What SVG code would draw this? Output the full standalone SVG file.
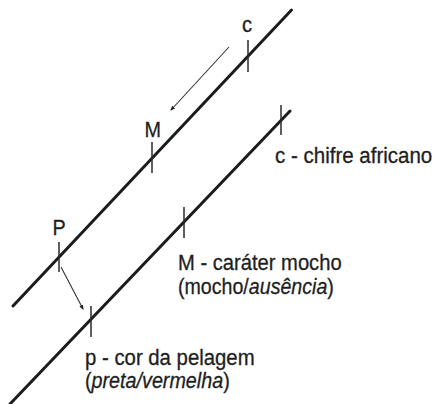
<svg xmlns="http://www.w3.org/2000/svg" width="434" height="404" viewBox="0 0 434 404">
<style>
.chrom{stroke:#1c1c1c;stroke-width:3;stroke-linecap:round;fill:none}
.tick{stroke:#2a2a2a;stroke-width:1.5;fill:none}
.arr{stroke:#333;stroke-width:1.1;fill:none;marker-end:url(#ah)}
text{font-family:"Liberation Sans",Arial,sans-serif;font-size:22.5px;fill:#1e1e1e;stroke:#1e1e1e;stroke-width:0.3}
.it{font-style:italic}
</style>
<defs>
<marker id="ah" viewBox="0 0 10 10" refX="8" refY="5" markerWidth="5" markerHeight="5" orient="auto" markerUnits="userSpaceOnUse">
<path d="M0,1 L10,5 L0,9 z" fill="#222"/>
</marker>
</defs>
<rect width="434" height="404" fill="#ffffff"/>
<g id="connectors">
<line class="chrom" x1="13" y1="306" x2="291.5" y2="10"/>
<line class="chrom" x1="10" y1="404" x2="290" y2="111"/>
<line class="arr" x1="229" y1="47" x2="171" y2="110"/>
<line class="arr" x1="61" y1="267" x2="83" y2="309"/>
</g>
<g id="locus-c-upper">
<line class="tick" x1="248" y1="40" x2="248" y2="72"/>
<text transform="translate(242,32) scale(0.9,1)">c</text>
</g>
<g id="locus-M-upper">
<line class="tick" x1="152" y1="142" x2="152" y2="173"/>
<text transform="translate(144.5,137) scale(0.88,1)">M</text>
</g>
<g id="locus-P-upper">
<line class="tick" x1="59" y1="242" x2="59" y2="272"/>
<text transform="translate(52.5,235) scale(0.88,1)">P</text>
</g>
<g id="locus-c-lower">
<line class="tick" x1="281" y1="105" x2="281" y2="135"/>
<text transform="translate(275,163) scale(0.912,1)">c - chifre africano</text>
</g>
<g id="locus-M-lower">
<line class="tick" x1="184" y1="207" x2="184" y2="238"/>
<text transform="translate(178,270) scale(0.897,1)">M - caráter mocho</text>
<text transform="translate(178,294) scale(0.872,1)">(mocho/<tspan class="it">ausência</tspan>)</text>
</g>
<g id="locus-p-lower">
<line class="tick" x1="91" y1="306" x2="91" y2="337"/>
<text transform="translate(85,365) scale(0.905,1)">p - cor da pelagem</text>
<text transform="translate(85,388) scale(0.877,1)">(<tspan class="it">preta/vermelha</tspan>)</text>
</g>
</svg>
